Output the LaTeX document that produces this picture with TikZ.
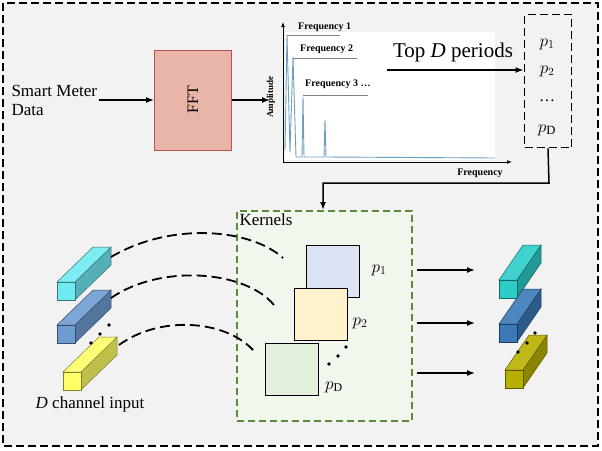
\documentclass[tikz,border=0pt]{standalone}
\usepackage{fontspec}
\setmainfont{Liberation Serif}
\usetikzlibrary{positioning,arrows.meta,calc}
\definecolor{fftfill}{HTML}{E9B5A9}
\definecolor{fftline}{HTML}{B85450}
\definecolor{kgreen}{HTML}{5A8A3A}
\definecolor{kbg}{HTML}{F1F7EC}
\definecolor{sq1}{HTML}{DCE3F2}
\definecolor{sq2}{HTML}{FFF2CC}
\definecolor{sq3}{HTML}{E2EFDA}
\definecolor{spec}{HTML}{6A9FC0}
\definecolor{incyan}{HTML}{70EAF2}
\definecolor{inblue}{HTML}{6E9CD2}
\definecolor{inyellow}{HTML}{FFFF66}
\definecolor{outcyan}{HTML}{2CCCC8}
\definecolor{outblue}{HTML}{3A78B8}
\definecolor{outolive}{HTML}{B8B000}
\tikzset{
  frame/.style={draw,line width=1.8pt,dash pattern=on 8pt off 4pt},
  arr/.style={-{Latex[length=8pt,width=6pt]},line width=1.5pt},
  lbl/.style={font=\fontsize{17}{19}\selectfont,align=left},
  kern/.style={draw,line width=1pt,minimum width=53pt,minimum height=52pt,anchor=north west},
  curve/.style={line width=1.8pt,dash pattern=on 10pt off 5pt},
  freq/.style={font=\bfseries\fontsize{10}{11}\selectfont,anchor=west,inner sep=0pt},
  dot/.style={fill,circle,inner sep=1.3pt}
}
% cuboid: front lower-left corner, depth x, colour
\newcommand\chanbar[4]{%
  \fill[#4!75!black,draw=#4!50!black,line width=0.5pt] (#1+18,#2) -- ++(#3,-35) -- ++(0,-18) -- (#1+18,#2-18) -- cycle;
  \fill[#4!90!white,draw=#4!50!black,line width=0.5pt] (#1,#2-18) -- (#1+18,#2-18) -- ++(#3,-35) -- ++(-18,0) -- cycle;
  \fill[#4,draw=#4!50!black,line width=0.5pt] (#1,#2) rectangle (#1+18,#2-18);
}
\begin{document}
\begin{tikzpicture}[x=1pt,y=-1pt]
\useasboundingbox (0,0) rectangle (602,450);
\draw[frame,fill=gray!10] (3,3) rectangle (598,446);

% input and FFT
\node[lbl,anchor=west] (smd) at (8,100) {Smart Meter\\Data};
\node[draw=fftline,fill=fftfill,minimum width=77pt,minimum height=100pt,line width=0.8pt] (fft) at (193,100) {};
\node[rotate=90,font=\fontsize{16}{18}\selectfont] at (fft) {FFT};
\draw[arr] (smd.east) ++(-2,0) coordinate (s1) -- (fft.west);
\coordinate (plotin) at (270,100);
\draw[arr] (fft.east) -- (plotin);

% spectrum
\fill[white] (285,32) rectangle (495,160);
\draw[-{Latex[length=5pt]},line width=0.8pt] (283,162) -- (283,22);
\draw[-{Latex[length=5pt]},line width=0.8pt] (283,162) -- (512,162);
\node[rotate=90,font=\bfseries\fontsize{9}{10}\selectfont] at (271,97) {Amplitude};
\node[font=\bfseries\fontsize{10}{11}\selectfont] at (480,173) {Frequency};
\draw[spec,line width=0.9pt] (285,150) -- (287,35) -- (290,152) -- (293,57) -- (296,157) -- (302,157) -- (303,97) -- (304,157)
  -- (324,157) -- (325,120) -- (326,157) -- (495,158);
\draw[gray,line width=0.5pt] (287,35) -- (340,35) (293,58) -- (357,58) (303,95) -- (368,95);
\node[freq] at (298,27) {Frequency 1};
\node[freq] at (300,49) {Frequency 2};
\node[freq] at (305,84) {Frequency 3 \dots};

% periods
\node[font=\fontsize{21}{23}\selectfont] (top) at (453,52) {Top \textit{D} periods};
\node[frame,minimum width=47pt,minimum height=133pt] (per) at (548,81) {};
\node[font=\fontsize{18}{20}\selectfont] at (547,44) {$p_1$};
\node[font=\fontsize{16}{18}\selectfont] at (547,71) {$p_2$};
\node[font=\fontsize{16}{18}\selectfont] at (547,101) {\dots};
\node[font=\fontsize{18}{20}\selectfont] at (547,130) {$p_{\mathrm{D}}$};
\draw[arr] (387,70) -- (per.west |- 0,70);

% kernels
\node[draw=kgreen,fill=kbg,line width=1.6pt,dash pattern=on 7pt off 4pt,minimum width=175pt,minimum height=210pt,anchor=north west] (kbox) at (236,210) {};
\node[anchor=north west,font=\fontsize{17}{19}\selectfont] at (kbox.north west) {Kernels};
\draw[arr] (per.south) -- (549,183) -- (323,183) -- (kbox.north -| 323,0);
\node[kern,fill=sq1] (k1) at (306,245) {};
\node[kern,fill=sq2] (k2) at (294,288) {};
\node[kern,fill=sq3] (k3) at (265,343) {};
\node[font=\fontsize{17}{19}\selectfont] at (379,270) {$p_1$};
\node[font=\fontsize{17}{19}\selectfont] at (360,323) {$p_2$};
\node[font=\fontsize{17}{19}\selectfont] at (334,387) {$p_{\mathrm{D}}$};
\foreach \x/\y in {346/347,338/356,329/364} \node[dot] at (\x,\y) {};

% input channels
\chanbar{57}{300}{36}{incyan}
\chanbar{57}{343}{36}{inblue}
\chanbar{63}{390}{36}{inyellow}
\foreach \x/\y in {109/325,100/334,91/343} \node[dot] at (\x,\y) {};
\node[lbl,anchor=center] (din) at (90,404) {\textit{D} channel input};
\coordinate (c1) at (111,257); \coordinate (c2) at (111,298); \coordinate (c3) at (119,345);
\draw[curve] (c1) .. controls (170,222) and (250,228) .. (283,258);
\draw[curve] (c2) .. controls (160,264) and (245,270) .. (274,305);
\draw[curve] (c3) .. controls (160,315) and (225,320) .. (253,350);

% outputs
\foreach \y in {270,323,373} \draw[arr] (417,\y) -- (475,\y);
\chanbar{499}{298}{24}{outcyan}
\chanbar{499}{342}{24}{outblue}
\chanbar{505}{388}{24}{outolive}
\foreach \x/\y in {535/333,527/343,518/352} \node[dot] at (\x,\y) {};
\end{tikzpicture}
\end{document}
